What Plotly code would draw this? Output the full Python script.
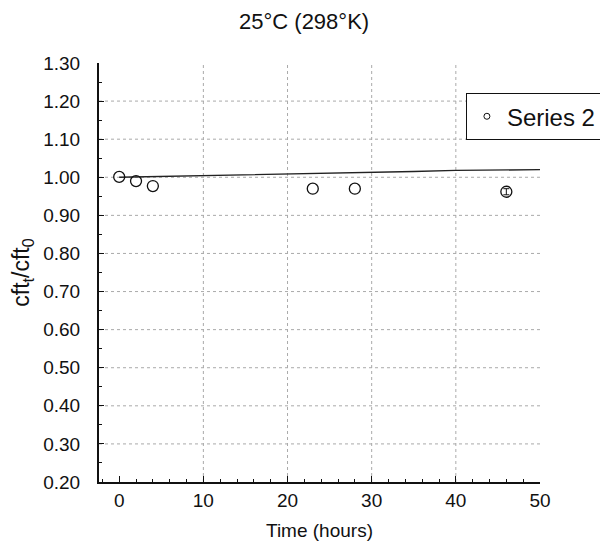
import plotly.graph_objects as go

# ---- data ----
time_obs = [0, 2, 4, 23, 28, 46]
ratio_obs = [1.001, 0.990, 0.977, 0.970, 0.970, 0.962]
ratio_err = [0, 0, 0, 0, 0, 0.008]

time_fit = [0, 5, 10, 15, 20, 25, 30, 35, 40, 45, 50]
ratio_fit = [1.000, 1.002, 1.004, 1.006, 1.008, 1.010, 1.012, 1.015, 1.018, 1.019, 1.020]

x_tick_vals = [0, 10, 20, 30, 40, 50]
x_tick_text = ["0", "10", "20", "30", "40", "50"]
y_tick_vals = [0.2, 0.3, 0.4, 0.5, 0.6, 0.7, 0.8, 0.9, 1.0, 1.1, 1.2, 1.3]
y_tick_text = ["0.20", "0.30", "0.40", "0.50", "0.60", "0.70", "0.80",
               "0.90", "1.00", "1.10", "1.20", "1.30"]
grid_x = [10, 20, 30, 40]
grid_y = [0.3, 0.4, 0.5, 0.6, 0.7, 0.8, 0.9, 1.0, 1.1, 1.2]

FONT = "Liberation Sans, Arial, Helvetica, sans-serif"
INK = "#111"

fig = go.Figure()

fig.add_trace(go.Scatter(
    x=time_fit, y=ratio_fit, mode="lines",
    line=dict(color="#222", width=1.4),
    showlegend=False, hoverinfo="skip",
))

# points without visible error bars
plain = [i for i, e in enumerate(ratio_err) if e == 0]
fig.add_trace(go.Scatter(
    x=[time_obs[i] for i in plain], y=[ratio_obs[i] for i in plain], mode="markers",
    marker=dict(symbol="circle-open", size=11, color=INK, line=dict(width=1.3)),
    showlegend=False,
))
# points with error bars
errd = [i for i, e in enumerate(ratio_err) if e > 0]
fig.add_trace(go.Scatter(
    x=[time_obs[i] for i in errd], y=[ratio_obs[i] for i in errd], mode="markers",
    marker=dict(symbol="circle-open", size=11, color=INK, line=dict(width=1.3)),
    error_y=dict(type="data", array=[ratio_err[i] for i in errd], visible=True,
                 color=INK, thickness=1, width=3),
    showlegend=False,
))

# legend-only entry (small symbol like the reference)
fig.add_trace(go.Scatter(
    x=[None], y=[None], mode="markers", name="Series 2",
    marker=dict(symbol="circle-open", size=6, color=INK, line=dict(width=1)),
    error_y=dict(type="data", array=[0.01], visible=True, color=INK,
                 thickness=1, width=3),
))

shapes = []
for gx in grid_x:
    shapes.append(dict(type="line", xref="x", yref="paper", x0=gx, x1=gx, y0=0, y1=1,
                       line=dict(color="#aaa", width=1, dash="dot"), layer="below"))
for gy in grid_y:
    shapes.append(dict(type="line", xref="paper", yref="y", x0=0, x1=1, y0=gy, y1=gy,
                       line=dict(color="#aaa", width=1, dash="dot"), layer="below"))

fig.update_layout(
    width=608, height=557,
    margin=dict(l=91, r=76, t=55, b=83, autoexpand=False),
    paper_bgcolor="white", plot_bgcolor="white",
    font=dict(family=FONT, size=18, color=INK),
    title=dict(text="25°C (298°K)", x=0.487, xref="container", xanchor="center",
               y=0.977, yref="container", yanchor="middle",
               font=dict(size=22, family=FONT)),
    shapes=shapes,
    legend=dict(x=0.832, xanchor="left", y=0.928, yanchor="top",
                bordercolor=INK, borderwidth=1, bgcolor="white",
                font=dict(size=24, family=FONT),
                itemwidth=30, tracegroupgap=0),
)

fig.update_xaxes(
    range=[-2.4, 50], tickvals=x_tick_vals, ticktext=x_tick_text,
    showgrid=False, zeroline=False,
    showline=True, linecolor=INK, linewidth=1.5,
    ticks="inside", ticklen=6, tickcolor=INK,
    minor=dict(dtick=2, tick0=0, ticks="inside", ticklen=3, tickcolor=INK, showgrid=False),
    tickfont=dict(size=19), ticklabelstandoff=0,
    title=dict(text="Time (hours)", font=dict(size=19), standoff=14),
)

fig.update_yaxes(
    range=[0.2, 1.3], tickvals=y_tick_vals, ticktext=y_tick_text,
    showgrid=False, zeroline=False,
    showline=True, linecolor=INK, linewidth=2,
    ticks="inside", ticklen=5, tickcolor=INK,
    minor=dict(dtick=0.05, tick0=0.2, ticks="inside", ticklen=3, tickcolor=INK, showgrid=False),
    tickfont=dict(size=19), ticklabelstandoff=13,
    title=dict(text="cft<sub>t</sub>/cft<sub>0</sub>", font=dict(size=23), standoff=8),
)

fig.write_html("out.html")
